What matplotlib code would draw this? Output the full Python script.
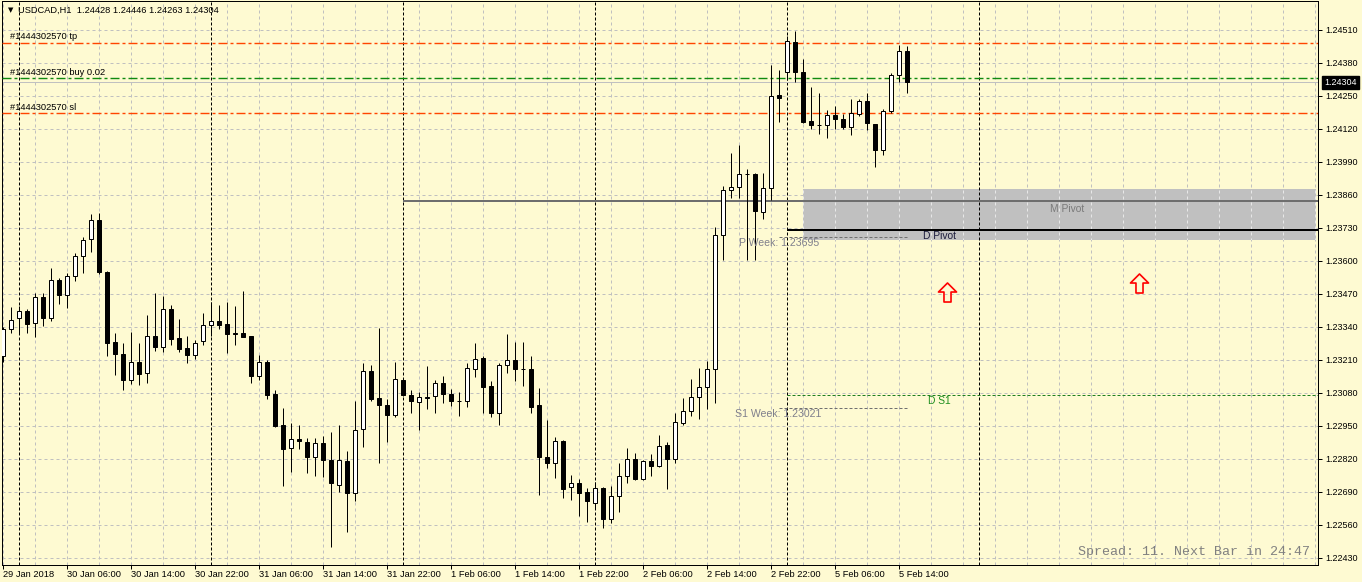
import matplotlib
matplotlib.use("Agg")
import matplotlib.pyplot as plt
import numpy as np
from matplotlib.patches import Rectangle
from matplotlib.path import Path

plt.rcParams['lines.scale_dashes'] = False
PX = 0.72  # one pixel in points at 100 dpi

# ---------------- data ----------------
symbol = "USDCAD,H1"
opens = [1.23226, 1.23332, 1.23375, 1.23403, 1.23356, 1.23458, 1.23375, 1.23525, 1.23466, 1.23541,
         1.23620, 1.23687, 1.23762, 1.23557, 1.23281, 1.23234, 1.23131, 1.23202, 1.23159, 1.23305,
         1.23261, 1.23411, 1.23297, 1.23257, 1.23230, 1.23285, 1.23348, 1.23364, 1.23352, 1.23314,
         1.23316, 1.23305, 1.23147, 1.23202, 1.23076, 1.22954, 1.22863, 1.22899, 1.22887, 1.22828,
         1.22883, 1.22816, 1.22718, 1.22812, 1.22686, 1.22938, 1.23167, 1.23060, 1.23032, 1.22993,
         1.23131, 1.23072, 1.23044, 1.23062, 1.23068, 1.23119, 1.23076, 1.23049, 1.23048, 1.23174,
         1.23218, 1.23108, 1.23001, 1.23190, 1.23210, 1.23175, 1.23174, 1.23032, 1.22828, 1.22804,
         1.22891, 1.22710, 1.22725, 1.22690, 1.22647, 1.22706, 1.22584, 1.22674, 1.22753, 1.22820,
         1.22741, 1.22812, 1.22792, 1.22875, 1.22820, 1.22962, 1.23009, 1.23064, 1.23104, 1.23174,
         1.23702, 1.23880, 1.23891, 1.23941, 1.23943, 1.23793, 1.23888, 1.24254, 1.24345, 1.24463,
         1.24345, 1.24151, 1.24137, 1.24136, 1.24175, 1.24159, 1.24128, 1.24179, 1.24230, 1.24140,
         1.24037, 1.24191, 1.24333, 1.24428]
highs = [1.23340, 1.23419, 1.23423, 1.23411, 1.23474, 1.23474, 1.23572, 1.23533, 1.23553, 1.23632,
         1.23695, 1.23785, 1.23789, 1.23561, 1.23316, 1.23277, 1.23320, 1.23277, 1.23387, 1.23474,
         1.23462, 1.23427, 1.23372, 1.23305, 1.23289, 1.23395, 1.23438, 1.23427, 1.23438, 1.23423,
         1.23482, 1.23306, 1.23230, 1.23210, 1.23092, 1.23021, 1.22962, 1.22954, 1.22903, 1.22903,
         1.22911, 1.22926, 1.22954, 1.22852, 1.23048, 1.23198, 1.23190, 1.23336, 1.23056, 1.23202,
         1.23139, 1.23092, 1.23084, 1.23186, 1.23131, 1.23147, 1.23096, 1.23084, 1.23198, 1.23277,
         1.23226, 1.23127, 1.23198, 1.23312, 1.23281, 1.23281, 1.23226, 1.23100, 1.22974, 1.22907,
         1.22893, 1.22757, 1.22741, 1.22706, 1.22729, 1.22708, 1.22714, 1.22804, 1.22863, 1.22844,
         1.22816, 1.22840, 1.22915, 1.22887, 1.23001, 1.23060, 1.23135, 1.23178, 1.23206, 1.23734,
         1.23895, 1.24025, 1.24057, 1.23962, 1.23945, 1.23947, 1.24372, 1.24352, 1.24486, 1.24506,
         1.24396, 1.24285, 1.24262, 1.24195, 1.24211, 1.24179, 1.24238, 1.24238, 1.24262, 1.24141,
         1.24199, 1.24341, 1.24451, 1.24446]
lows = [1.23202, 1.23316, 1.23312, 1.23316, 1.23301, 1.23344, 1.23364, 1.23431, 1.23415, 1.23521,
        1.23553, 1.23635, 1.23549, 1.23226, 1.23151, 1.23092, 1.23115, 1.23111, 1.23119, 1.23245,
        1.23242, 1.23269, 1.23242, 1.23198, 1.23214, 1.23269, 1.23305, 1.23332, 1.23238, 1.23269,
        1.23299, 1.23119, 1.23131, 1.23056, 1.22948, 1.22714, 1.22769, 1.22859, 1.22765, 1.22753,
        1.22749, 1.22473, 1.22690, 1.22532, 1.22655, 1.22867, 1.23048, 1.22804, 1.22887, 1.22985,
        1.23068, 1.23001, 1.22934, 1.23017, 1.23001, 1.23040, 1.23028, 1.22989, 1.23025, 1.23143,
        1.23001, 1.22985, 1.22954, 1.23159, 1.23127, 1.23108, 1.23001, 1.22678, 1.22785, 1.22745,
        1.22666, 1.22659, 1.22595, 1.22572, 1.22627, 1.22548, 1.22568, 1.22611, 1.22725, 1.22737,
        1.22737, 1.22753, 1.22788, 1.22702, 1.22804, 1.22954, 1.22989, 1.22977, 1.23017, 1.23040,
        1.23604, 1.23848, 1.23848, 1.23604, 1.23604, 1.23766, 1.23840, 1.24147, 1.24313, 1.24305,
        1.24145, 1.24120, 1.24100, 1.24085, 1.24120, 1.24120, 1.24096, 1.24171, 1.24116, 1.23970,
        1.24018, 1.24183, 1.24305, 1.24263]
closes = [1.23332, 1.23368, 1.23403, 1.23352, 1.23458, 1.23375, 1.23525, 1.23466, 1.23541, 1.23620,
          1.23683, 1.23762, 1.23557, 1.23277, 1.23234, 1.23131, 1.23202, 1.23155, 1.23305, 1.23261,
          1.23411, 1.23293, 1.23253, 1.23230, 1.23277, 1.23348, 1.23364, 1.23348, 1.23312, 1.23316,
          1.23301, 1.23147, 1.23202, 1.23072, 1.22950, 1.22859, 1.22899, 1.22891, 1.22828, 1.22883,
          1.22816, 1.22725, 1.22816, 1.22686, 1.22934, 1.23167, 1.23056, 1.23032, 1.22993, 1.23135,
          1.23072, 1.23048, 1.23064, 1.23064, 1.23119, 1.23076, 1.23048, 1.23048, 1.23178, 1.23214,
          1.23104, 1.23001, 1.23190, 1.23210, 1.23174, 1.23174, 1.23025, 1.22828, 1.22804, 1.22891,
          1.22702, 1.22725, 1.22686, 1.22655, 1.22706, 1.22584, 1.22674, 1.22753, 1.22820, 1.22741,
          1.22812, 1.22792, 1.22871, 1.22820, 1.22966, 1.23009, 1.23064, 1.23104, 1.23174, 1.23702,
          1.23880, 1.23891, 1.23943, 1.23943, 1.23797, 1.23888, 1.24250, 1.24242, 1.24467, 1.24345,
          1.24148, 1.24136, 1.24136, 1.24175, 1.24159, 1.24128, 1.24183, 1.24230, 1.24144, 1.24037,
          1.24191, 1.24333, 1.24428, 1.24304]

time_labels = ["29 Jan 2018", "30 Jan 06:00", "30 Jan 14:00", "30 Jan 22:00", "31 Jan 06:00",
               "31 Jan 14:00", "31 Jan 22:00", "1 Feb 06:00", "1 Feb 14:00", "1 Feb 22:00",
               "2 Feb 06:00", "2 Feb 14:00", "2 Feb 22:00", "5 Feb 06:00", "5 Feb 14:00"]
label_step = 8                     # bars between time labels
day_start_bars = [2, 26, 50, 74, 98, 122]
price_ticks = [1.24510, 1.24380, 1.24250, 1.24120, 1.23990, 1.23860, 1.23730, 1.23600, 1.23470,
               1.23340, 1.23210, 1.23080, 1.22950, 1.22820, 1.22690, 1.22560, 1.22430]

order_id = "#1444302570"
tp_price = 1.24459
buy_price = 1.24320
buy_lots = "0.02"
sl_price = 1.24182
bid_price = 1.24304

m_pivot = 1.23838
m_pivot_start = 50
zone_top = 1.23884
zone_bottom = 1.23683
zone_start = 100
d_pivot = 1.23722
d_s1 = 1.23072
day_line_start = 98
p_week = 1.23695
s1_week = 1.23021
week_line_span = (97, 113)
arrow_bars = [118, 142]
arrow_prices = [1.23478, 1.23513]
spread_text = "Spread: 11. Next Bar in 24:47"

# ---------------- figure ----------------
bg = '#fefad2'
fig = plt.figure(figsize=(13.62, 5.82), dpi=100)
fig.patch.set_facecolor(bg)
ax = fig.add_axes([2 / 1362, 17 / 582, 1316 / 1362, 564 / 582])
ax.set_facecolor(bg)
xmin, xmax = -0.125, 164.375
ax.set_xlim(xmin, xmax)
ax.set_ylim(1.224024, 1.246242)

FONT = 'Liberation Sans'

# grid
grid_bars = np.arange(0, 165, 4)
for v in grid_bars:
    ax.axvline(v, color='#c0c0c0', lw=PX, dashes=(3 * PX, 3 * PX), zorder=1)
for p in price_ticks:
    ax.axhline(p, color='#c0c0c0', lw=PX, dashes=(3 * PX, 3 * PX), zorder=1)

# pivot zone
zone = Rectangle((zone_start, zone_bottom), 164.1 - zone_start, zone_top - zone_bottom,
                 facecolor='#c0c0c0', edgecolor='none', zorder=1.5)
ax.add_patch(zone)
for v in grid_bars:
    ln = ax.axvline(v, color='#e8e8e8', lw=PX, dashes=(3 * PX, 3 * PX), zorder=1.6)
    ln.set_clip_path(zone)

# day separators
for b in day_start_bars:
    ax.axvline(b, color='black', lw=PX, dashes=(3 * PX, 2 * PX), zorder=2)

# pivot lines
short_dash = [(0, (3 * PX, 2 * PX))]
ax.hlines(m_pivot, m_pivot_start, xmax, color='#6e6e6e', lw=2 * PX, zorder=2.5)
ax.hlines(d_pivot, day_line_start, xmax, color='black', lw=2 * PX, zorder=2.5)
ax.hlines(d_s1, day_line_start, xmax, color='#1f7f1f', lw=PX, linestyles=short_dash, zorder=2.5)
ax.hlines([p_week, s1_week], week_line_span[0], week_line_span[1], color='#707070', lw=PX,
          linestyles=short_dash, zorder=2.5)

# order lines
dashdot = (9 * PX, 3 * PX, 3 * PX, 3 * PX)
ax.axhline(bid_price, color='#c0c0c0', lw=PX, zorder=2.4)
for pr, col in [(tp_price, '#ff4500'), (sl_price, '#ff4500'), (buy_price, '#0f8a0f')]:
    ln = ax.axhline(pr, color=col, lw=1.4 * PX, dashes=dashdot, zorder=2.6)
    ln.set_snap(True)

for txt, pr in [(f"{order_id} tp", tp_price), (f"{order_id} buy {buy_lots}", buy_price),
                (f"{order_id} sl", sl_price)]:
    ax.annotate(txt, xy=(0.9, pr), xytext=(0, 1.2), textcoords='offset points',
                ha='left', va='bottom', fontsize=6.7, family=FONT, color='black', zorder=6)

# candles
x = np.arange(len(opens))
o = np.array(opens); h = np.array(highs); l = np.array(lows); c = np.array(closes)
ax.vlines(x, l, h, color='black', lw=PX, zorder=3)
body_bottom = np.minimum(o, c)
body_h = np.abs(c - o)
face = ['white' if cc >= oo else 'black' for oo, cc in zip(o, c)]
ax.bar(x, body_h, bottom=body_bottom, width=0.6, color=face, edgecolor='black',
       linewidth=PX, zorder=4)

# text labels for pivots
ax.annotate("M Pivot", xy=(130.9, m_pivot), xytext=(0, -2.5), textcoords='offset points',
            ha='left', va='top', fontsize=7.4, family=FONT, color='#7a7a7a', zorder=6)
ax.annotate("D Pivot", xy=(115.0, d_pivot), xytext=(0, -1), textcoords='offset points',
            ha='left', va='top', fontsize=7.4, family=FONT, color='#1c1c3c', zorder=6)
ax.annotate("D S1", xy=(115.6, d_s1), xytext=(0, -1), textcoords='offset points',
            ha='left', va='top', fontsize=7.4, family=FONT, color='#1f8f1f', zorder=6)
ax.annotate(f"P Week: {p_week:.5f}", xy=(92.0, p_week), xytext=(0, -0.5), textcoords='offset points',
            ha='left', va='top', fontsize=7.6, family=FONT, color='#7f7f8c', zorder=6)
ax.annotate(f"S1 Week: {s1_week:.5f}", xy=(91.5, s1_week), xytext=(0, -0.5), textcoords='offset points',
            ha='left', va='top', fontsize=7.6, family=FONT, color='#7f7f8c', zorder=6)

# arrows
verts = [(0, 1), (0.95, 0.05), (0.37, 0.05), (0.37, -1), (-0.37, -1), (-0.37, 0.05), (-0.95, 0.05), (0, 1)]
arrow_marker = Path(verts, closed=True)
ax.plot(arrow_bars, arrow_prices, linestyle='none', marker=arrow_marker, markersize=13.7,
        markerfacecolor='none', markeredgecolor='red', markeredgewidth=1.2, zorder=6)

# header
ax.text(0.0045, 0.984, "\u25bc", transform=ax.transAxes, fontsize=5, family='DejaVu Sans',
        ha='left', va='center', color='black', zorder=7)
ax.text(0.0122, 0.984, f"{symbol}  {opens[-1]:.5f} {highs[-1]:.5f} {lows[-1]:.5f} {closes[-1]:.5f}",
        transform=ax.transAxes, fontsize=6.7, family=FONT, ha='left', va='center', color='black', zorder=7)

# spread text
ax.text(0.9939, 0.023, spread_text, transform=ax.transAxes, fontsize=9.6, family='Liberation Mono',
        ha='right', va='center', color='#808080', zorder=7)

# axes styling
for s in ax.spines.values():
    s.set_color('black')
    s.set_linewidth(PX)
ax.yaxis.tick_right()
ax.set_yticks(price_ticks)
ax.set_yticklabels([f"{p:.5f}" for p in price_ticks])
ax.tick_params(axis='y', which='both', right=True, left=False, labelright=True, labelleft=False,
               length=4 * PX, width=PX, pad=2.2, labelsize=6.5, colors='black')
tick_bars = np.arange(len(time_labels)) * label_step
ax.set_xticks(tick_bars)
ax.set_xticklabels(time_labels, ha='left')
ax.tick_params(axis='x', length=4 * PX, width=PX, pad=1.0, labelsize=6.7, colors='black')
for lab in ax.get_xticklabels() + ax.get_yticklabels():
    lab.set_family(FONT)

# bid price tag
ax.annotate(f"{bid_price:.5f}", xy=(1, bid_price), xycoords=('axes fraction', 'data'),
            xytext=(4.3, 0), textcoords='offset points', ha='left', va='center', fontsize=6.5,
            family=FONT, color='white', annotation_clip=False, zorder=8,
            bbox=dict(boxstyle='square,pad=0.25', facecolor='black', edgecolor='black'))

fig.savefig("out.png", dpi=100, facecolor=bg)
